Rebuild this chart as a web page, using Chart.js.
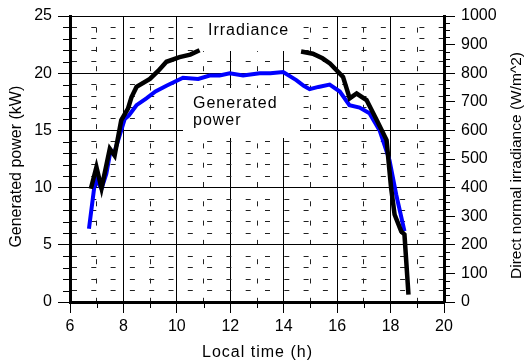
<!DOCTYPE html>
<html>
<head>
<meta charset="utf-8">
<script src="https://cdn.jsdelivr.net/npm/chart.js@4/dist/chart.umd.min.js"></script>
<style>
  html, body { margin: 0; padding: 0; background: #fff; }
  #wrap { width: 526px; height: 362px; }
</style>
</head>
<body>
<div id="wrap"><canvas id="solarChart"></canvas></div>
<script>
// values
const powerTime = [6.71, 6.95, 7.18, 7.36, 7.5, 7.65, 7.85, 8.05, 8.2, 8.49, 8.86, 9.2, 9.61, 10.23, 10.8, 11.23, 11.6, 11.98, 12.48, 13.1, 13.5, 13.98, 14.47, 14.75, 14.97, 15.3, 15.72, 16.1, 16.46, 16.84, 17.21, 17.59, 17.96, 18.21, 18.52];
const powerKW = [6.4, 10.8, 9.9, 11.2, 13.0, 13.0, 14.5, 16.0, 16.3, 17.2, 17.8, 18.4, 18.9, 19.6, 19.5, 19.8, 19.8, 20.0, 19.8, 20.0, 20.0, 20.1, 19.4, 18.9, 18.6, 18.8, 19.0, 18.4, 17.2, 17.0, 16.5, 15.0, 12.4, 9.4, 6.2];

// irradiance hidden behind the label between ~11 h and ~14.6 h
const irrTime = [6.78, 6.99, 7.18, 7.49, 7.67, 7.92, 8.17, 8.3, 8.49, 8.99, 9.3, 9.61, 10.1, 10.5, 10.85, 12.8, 14.65, 15.09, 15.45, 15.73, 16.22, 16.47, 16.73, 17.1, 17.48, 17.85, 18.02, 18.15, 18.4, 18.52, 18.67];
const irrWm2 = [396, 472, 398, 536, 512, 636, 676, 716, 752, 780, 808, 840, 856, 865, 880, null, 876, 868, 852, 834, 787, 712, 729, 706, 636, 566, 399, 306, 247, 236, 26];

const timeLabels = [6, 8, 10, 12, 14, 16, 18, 20];
const powerLabels = [0, 5, 10, 15, 20, 25];
const irrLabels = [0, 100, 200, 300, 400, 500, 600, 700, 800, 900, 1000];

const FONT = 'Arial, "Liberation Sans", sans-serif';
Chart.defaults.font.family = FONT;
Chart.defaults.font.size = 16;
Chart.defaults.color = '#000';

const toPoints = (xs, ys) => xs.map((x, i) => ({ x: x, y: ys[i] }));

// white label boxes + texts, drawn over the grid but under the lines
const labelBoxes = {
    id: 'labelBoxes',
    beforeDatasetsDraw(chart) {
        const ctx = chart.ctx;
        ctx.save();
        ctx.fillStyle = '#fff';
        ctx.fillRect(202, 17, 100, 34);
        ctx.fillRect(183, 88, 117, 50);
        ctx.fillStyle = '#000';
        ctx.font = '16px ' + FONT;
        ctx.letterSpacing = '1px';
        ctx.textAlign = 'left';
        ctx.textBaseline = 'alphabetic';
        ctx.fillText('Irradiance', 208, 35);
        ctx.fillText('Generated', 193, 107.5);
        ctx.fillText('power', 193, 124.6);
        ctx.restore();
    }
};

// short minor tick marks + axis titles
const axisExtras = {
    id: 'axisExtras',
    afterDraw(chart) {
        const ctx = chart.ctx, a = chart.chartArea;
        const sx = chart.scales.x, sy = chart.scales.y, sr = chart.scales.yIrr;
        ctx.save();
        ctx.strokeStyle = '#000';
        ctx.lineWidth = 1;
        ctx.beginPath();
        sx.ticks.forEach(t => {
            if (!timeLabels.includes(t.value)) {
                const p = Math.round(sx.getPixelForValue(t.value)) + 0.5;
                ctx.moveTo(p, a.bottom); ctx.lineTo(p, a.bottom + 6);
            }
        });
        sy.ticks.forEach(t => {
            if (!powerLabels.includes(t.value)) {
                const p = Math.round(sy.getPixelForValue(t.value)) + 0.5;
                ctx.moveTo(a.left - 7, p); ctx.lineTo(a.left, p);
            }
        });
        sr.ticks.forEach(t => {
            if (!irrLabels.includes(t.value)) {
                const p = Math.round(sr.getPixelForValue(t.value)) + 0.5;
                ctx.moveTo(a.right, p); ctx.lineTo(a.right + 6, p);
            }
        });
        ctx.stroke();

        ctx.fillStyle = '#000';
        ctx.textAlign = 'center';
        ctx.font = '16px ' + FONT;
        ctx.letterSpacing = '1px';
        ctx.textBaseline = 'alphabetic';
        ctx.fillText('Local time (h)', 257.5, 356.7);

        ctx.letterSpacing = '0px';
        ctx.textBaseline = 'middle';
        ctx.save();
        ctx.translate(16.5, 166.7);
        ctx.rotate(-Math.PI / 2);
        ctx.fillText('Generated power (kW)', 0, 0);
        ctx.restore();

        ctx.save();
        ctx.font = '15.5px ' + FONT;
        ctx.translate(516.5, 165.5);
        ctx.rotate(-Math.PI / 2);
        ctx.fillText('Direct normal irradiance (W/m^2)', 0, 0);
        ctx.restore();
        ctx.restore();
    }
};

const minorDash = [5, 14.3];

new Chart(document.getElementById('solarChart'), {
    type: 'line',
    data: {
        datasets: [{
            label: 'Irradiance',
            data: toPoints(irrTime, irrWm2),
            yAxisID: 'yIrr',
            borderColor: '#000',
            borderWidth: 4.5,
            pointRadius: 0,
            tension: 0,
            spanGaps: false,
            order: 1
        }, {
            label: 'Generated power',
            data: toPoints(powerTime, powerKW),
            yAxisID: 'y',
            borderColor: '#0000ff',
            borderWidth: 4,
            pointRadius: 0,
            tension: 0,
            order: 2
        }]
    },
    options: {
        responsive: true,
        maintainAspectRatio: false,
        animation: false,
        layout: { padding: { top: 16, left: 0, right: 0, bottom: 0 } },
        plugins: {
            legend: { display: false },
            tooltip: { enabled: false }
        },
        scales: {
            x: {
                type: 'linear',
                min: 6,
                max: 20,
                afterFit(s) { s.height = 60; },
                ticks: {
                    stepSize: 1,
                    autoSkip: false,
                    maxRotation: 0,
                    padding: 4,
                    callback: v => timeLabels.includes(v) ? String(v) : ''
                },
                grid: {
                    color: c => (c.tick && !timeLabels.includes(c.tick.value)) ? '#222' : '#000',
                    lineWidth: 1,
                    tickLength: 11,
                    tickColor: c => (c.tick && timeLabels.includes(c.tick.value)) ? '#000' : 'rgba(0,0,0,0)',
                    tickBorderDash: []
                },
                border: {
                    color: '#000',
                    width: 3,
                    dash: c => (c.tick && !timeLabels.includes(c.tick.value)) ? minorDash : [],
                    dashOffset: c => (c.tick && !timeLabels.includes(c.tick.value)) ? 7.7 : 0
                }
            },
            y: {
                position: 'left',
                min: 0,
                max: 25,
                afterFit(s) { s.width = 70; },
                ticks: {
                    stepSize: 1,
                    autoSkip: false,
                    padding: 6,
                    callback: v => powerLabels.includes(v) ? String(v) : ''
                },
                grid: {
                    color: c => (c.tick && !powerLabels.includes(c.tick.value)) ? '#222' : '#000',
                    lineWidth: 1,
                    tickLength: 12,
                    tickColor: c => (c.tick && powerLabels.includes(c.tick.value)) ? '#000' : 'rgba(0,0,0,0)',
                    tickBorderDash: []
                },
                border: {
                    color: '#000',
                    width: 3,
                    dash: c => (c.tick && !powerLabels.includes(c.tick.value)) ? minorDash : []
                }
            },
            yIrr: {
                position: 'right',
                min: 0,
                max: 1000,
                afterFit(s) { s.width = 82; },
                ticks: {
                    stepSize: 25,
                    autoSkip: false,
                    padding: 6,
                    callback: v => irrLabels.includes(v) ? String(v) : ''
                },
                grid: {
                    drawOnChartArea: false,
                    tickLength: 11,
                    tickColor: c => (c.tick && irrLabels.includes(c.tick.value)) ? '#000' : 'rgba(0,0,0,0)'
                },
                border: { color: '#000', width: 3 }
            }
        }
    },
    plugins: [labelBoxes, axisExtras]
});
</script>
</body>
</html>
